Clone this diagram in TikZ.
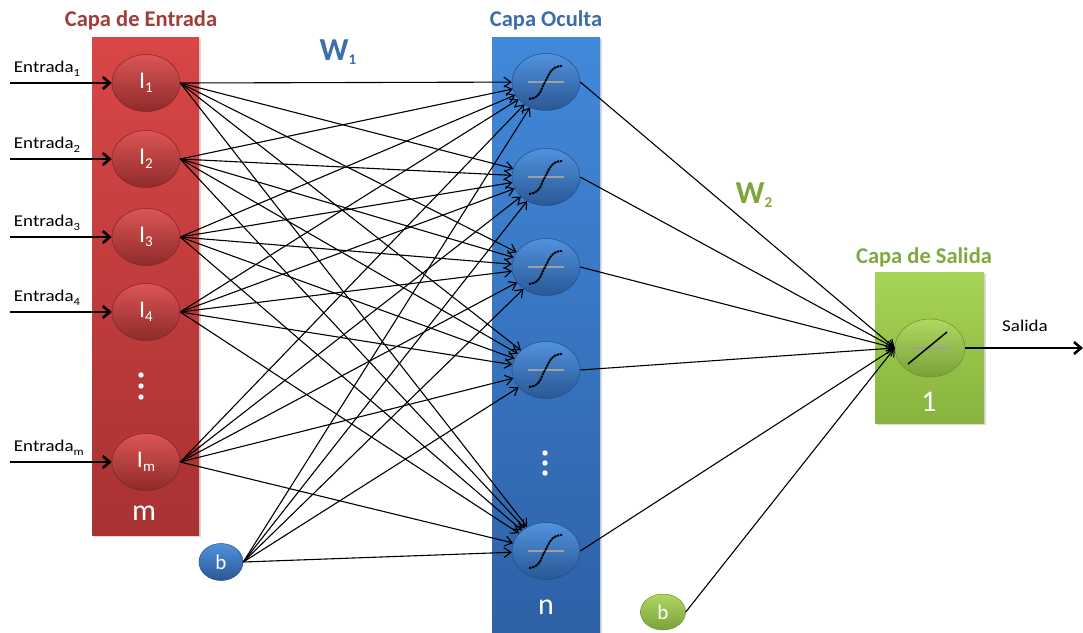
\documentclass[tikz,border=0pt]{standalone}
\usepackage{fontspec}
\setmainfont{Carlito}
\newfontfamily\lblfont[FakeStretch=1.15]{Carlito}
\usetikzlibrary{arrows.meta,shapes.geometric,shadows}
\definecolor{redtitle}{HTML}{A33B3A}
\definecolor{bluetitle}{HTML}{3A6CAE}
\definecolor{greentitle}{HTML}{7FA93C}
\definecolor{redtop}{HTML}{D94646}
\definecolor{redbot}{HTML}{A83232}
\definecolor{bluetop}{HTML}{4189DA}
\definecolor{bluebot}{HTML}{2E61A6}
\definecolor{greentop}{HTML}{A8D455}
\definecolor{greenbot}{HTML}{88B33E}
\definecolor{wblue}{HTML}{3C6FB0}
\definecolor{wgreen}{HTML}{7FA53A}
\newcommand\subtxt[1]{\raisebox{-4pt}{\fontsize{11}{11}\selectfont #1}}
\newcommand\subnum[1]{\raisebox{-4pt}{\fontsize{15}{15}\selectfont #1}}
\begin{document}
\begin{tikzpicture}[x=1pt,y=-1pt,
  redbox/.style={top color=redtop,bottom color=redbot,drop shadow={shadow xshift=2pt,shadow yshift=-2pt,opacity=0.3}},
  bluebox/.style={top color=bluetop,bottom color=bluebot,drop shadow={shadow xshift=2pt,shadow yshift=-2pt,opacity=0.3}},
  greenbox/.style={top color=greentop,bottom color=greenbot,drop shadow={shadow xshift=2pt,shadow yshift=-2pt,opacity=0.3}},
  neuron/.style={ellipse,minimum width=68pt,minimum height=57pt,inner sep=0pt,text=white,font=\fontsize{24}{24}\selectfont},
  rneuron/.style={neuron,top color=redtop!92!white,bottom color=redbot!85!black,draw=redbot!75!black,line width=0.5pt},
  bneuron/.style={neuron,top color=bluetop!92!white,bottom color=bluebot!90!black,draw=bluebot!80!black,line width=0.5pt},
  gneuron/.style={neuron,top color=greentop!92!white,bottom color=greenbot!90!black,draw=greenbot!80!black,line width=0.5pt},
  conn/.style={line width=1.1pt,-{Straight Barb[length=7pt,width=10pt]}},
  inarrow/.style={line width=2.6pt,-{Straight Barb[length=7pt,width=12pt]}},
  lbl/.style={font=\lblfont\fontsize{16.5}{18}\selectfont,anchor=base west,inner sep=0pt},
  title/.style={font=\fontsize{22.5}{24}\selectfont\bfseries,anchor=base,inner sep=0pt},
  count/.style={text=white,font=\fontsize{30}{30}\selectfont,inner sep=0pt},
  wlbl/.style={font=\fontsize{32}{32}\selectfont\bfseries,inner sep=0pt},
  sigm/.style={line width=1.9pt,dash pattern=on 2.5pt off 0.7pt},
  midline/.style={line width=1.3pt,gray!75}
]
\useasboundingbox (0,0) rectangle (1083,632);

% layer boxes
\path[redbox] (92,37) rectangle (199,535);
\path[bluebox] (492,37) rectangle (600,632);
\path[greenbox] (875,272) rectangle (984,423);

% titles
\node[title,text=redtitle] (t1) at (141,26) {Capa de Entrada};
\node[title,text=bluetitle] (t2) at (546,26) {Capa Oculta};
\node[title,text=greentitle] (t3) at (924,263) {Capa de Salida};

% input neurons
\node[rneuron] (I1) at (146,83) {I\subnum{1}};
\node[rneuron] (I2) at (146,159) {I\subnum{2}};
\node[rneuron] (I3) at (146,237) {I\subnum{3}};
\node[rneuron] (I4) at (146,312) {I\subnum{4}};
\node[rneuron] (Im) at (146,462) {I\subnum{m}};
\foreach \yy in {375,386,397} \fill[white] (141,\yy) circle (2.7pt);
\node[count] (cm) at (144,513) {m};

% hidden neurons
\node[bneuron] (H1) at (546,82) {};
\node[bneuron] (H2) at (546,177) {};
\node[bneuron] (H3) at (546,267) {};
\node[bneuron] (H4) at (546,370) {};
\node[bneuron] (H5) at (546,551) {};
\foreach \yy in {453,463,473} \fill[white] (545,\yy) circle (2.7pt);
\node[count] (cn) at (546,607) {n};

% output neuron
\node[gneuron,minimum width=70pt,minimum height=58pt] (O) at (930,348) {};
\node[count] (c1) at (929,402) {1};

% bias
\node[bneuron,minimum width=44pt,minimum height=37pt,font=\fontsize{21}{21}\selectfont] (b1) at (221,562) {b};
\node[gneuron,minimum width=45pt,minimum height=36pt,font=\fontsize{21}{21}\selectfont] (b2) at (663,612) {b};

% icons in hidden neurons
\foreach \h in {1,...,5}{
  \draw[midline] ([xshift=-18pt]H\h.center) -- ([xshift=18pt]H\h.center);
  \draw[sigm] ([shift={(-17,17)}]H\h.center) .. controls ([shift={(-5,16)}]H\h.center) and ([shift={(-5,6)}]H\h.center) .. ([shift={(-1,0)}]H\h.center)
     .. controls ([shift={(3,-7)}]H\h.center) and ([shift={(5,-16)}]H\h.center) .. ([shift={(16,-16)}]H\h.center);
}
% icon in output neuron
\draw[midline] ([xshift=-20pt]O.center) -- ([xshift=19pt]O.center);
\draw[line width=1.5pt] ([shift={(-22,16)}]O.center) -- ([shift={(17,-16)}]O.center);

% input arrows and labels
\foreach \n/\s in {I1/1,I2/2,I3/3,I4/4,Im/m}{
  \coordinate (e\n) at ([xshift=-102pt]\n.west);
  \draw[inarrow] (e\n) -- (\n.west);
  \node[lbl] (l\n) at ([shift={(4,-11)}]e\n) {Entrada\subtxt{\s}};
}

% connections input -> hidden
\foreach \i in {I1,I2,I3,I4,Im}
  \foreach \h in {H1,H2,H3,H4,H5}
    \draw[conn] (\i.east) -- (\h);
\foreach \h in {H1,H2,H3,H4,H5}
  \draw[conn] (b1.east) -- (\h);

% hidden -> output
\foreach \h in {H1,H2,H3,H4,H5}
  \draw[conn] (\h.east) -- (O.west);
\draw[conn] (b2.east) -- (O.west);

% output arrow
\coordinate (out) at (1083,348);
\draw[inarrow] (O.east) -- (out);
\node[lbl] (ls) at (1002,331) {Salida};

% weights
\node[wlbl,text=wblue] (w1) at (338,52) {W\subnum{1}};
\node[wlbl,text=wgreen] (w2) at (754,195) {W\subnum{2}};
\end{tikzpicture}
\end{document}
